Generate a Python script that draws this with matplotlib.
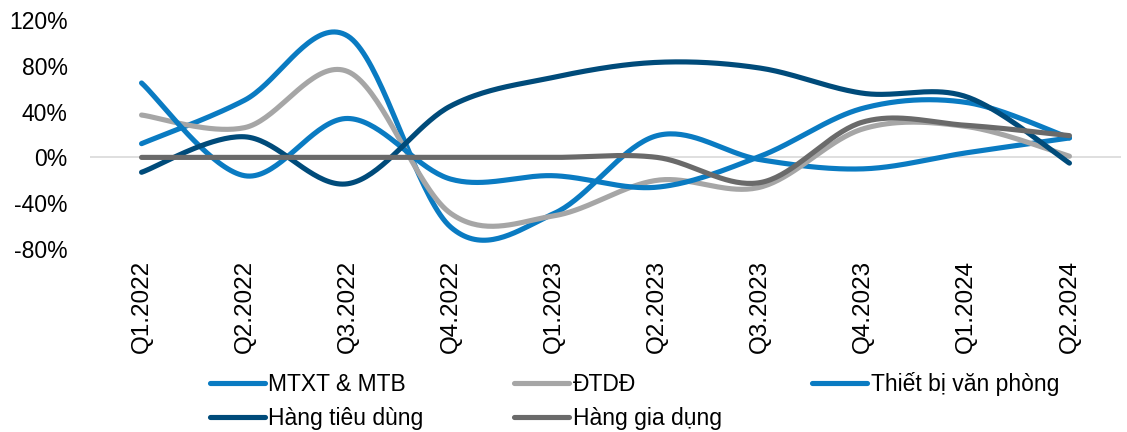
import numpy as np
import matplotlib
matplotlib.use('Agg')
from matplotlib import pyplot as plt

plt.rcParams['font.family'] = ['Liberation Sans', 'DejaVu Sans']

quarters = ['Q1.2022', 'Q2.2022', 'Q3.2022', 'Q4.2022', 'Q1.2023',
            'Q2.2023', 'Q3.2023', 'Q4.2023', 'Q1.2024', 'Q2.2024']

# growth in %
mtxt_mtb = [12, 50, 106, -61, -49, 19, -2, -10, 4, 17]
dtdd = [37, 26, 75, -49, -51, -20, -26, 25, 27, 1]
thiet_bi_vp = [65, -16, 34, -19, -16, -26, 1, 43, 48, 17]
hang_tieu_dung = [-13, 18, -23, 45, 70, 83, 78, 56, 53, -5]
hang_gia_dung = [0, 0, 0, 0, 0, 0, -22, 31, 28, 19]

series = [
    ('MTXT & MTB', mtxt_mtb, '#0A7BC2'),
    ('ĐTDĐ', dtdd, '#A6A6A6'),
    ('Thiết bị văn phòng', thiet_bi_vp, '#0A7BC2'),
    ('Hàng tiêu dùng', hang_tieu_dung, '#004B7A'),
    ('Hàng gia dụng', hang_gia_dung, '#6A6A6A'),
]


def smooth(y, n=40):
    """excel-like smoothed line: bezier through points, tangents (p[i+1]-p[i-1])/6"""
    y = np.asarray(y, dtype=float)
    x = np.arange(len(y), dtype=float)
    pts = np.column_stack([x, y])
    padded = np.vstack([pts[0], pts, pts[-1]])
    t = np.linspace(0, 1, n)[:, None]
    out = []
    for i in range(len(pts) - 1):
        p0, p1 = padded[i], padded[i + 1]
        p2, p3 = padded[i + 2], padded[i + 3]
        c1 = p1 + (p2 - p0) / 6.
        c2 = p2 - (p3 - p1) / 6.
        seg = ((1 - t)**3 * p1 + 3 * (1 - t)**2 * t * c1
               + 3 * (1 - t) * t**2 * c2 + t**3 * p2)
        out.append(seg if i == 0 else seg[1:])
    out = np.vstack(out)
    return out[:, 0], out[:, 1]


fig = plt.figure(figsize=(11.27, 4.32), dpi=100)
ax = fig.add_axes([90 / 1127, 1 - 249 / 432, 1031 / 1127, 229 / 432])

ax.axhline(0, color='#D9D9D9', lw=1.2, zorder=1)

handles = {}
for name, vals, col in series:
    xs, ys = smooth(vals)
    line, = ax.plot(xs, ys, color=col, lw=3.7, solid_capstyle='round',
                    label=name, zorder=2)
    handles[name] = line

ax.set_xlim(-0.5, len(quarters) - 0.5)
ax.set_ylim(-80, 120)
ax.set_yticks(np.arange(-80, 121, 40))
ax.set_yticklabels(['%d%%' % v for v in np.arange(-80, 121, 40)])
ax.set_xticks(np.arange(len(quarters)))
ax.set_xticklabels(quarters, rotation=90)
ax.tick_params(axis='y', length=0, pad=16, labelsize=16.5)
ax.tick_params(axis='x', length=0, pad=8, labelsize=17.5)
for sp in ax.spines.values():
    sp.set_visible(False)

# matplotlib fills legend columns top-down, so reorder to get excel's row order
order = ['MTXT & MTB', 'Hàng tiêu dùng', 'ĐTDĐ', 'Hàng gia dụng', 'Thiết bị văn phòng']
fig.legend([handles[k] for k in order], order, loc='upper left',
           bbox_to_anchor=(210 / 1127, 1 - 372 / 432), ncol=3, frameon=False,
           fontsize=16.5, borderpad=0, borderaxespad=0, handlelength=2.4,
           handletextpad=0.15, columnspacing=3.95, labelspacing=0.5)

fig.savefig('out.png', dpi=100)
